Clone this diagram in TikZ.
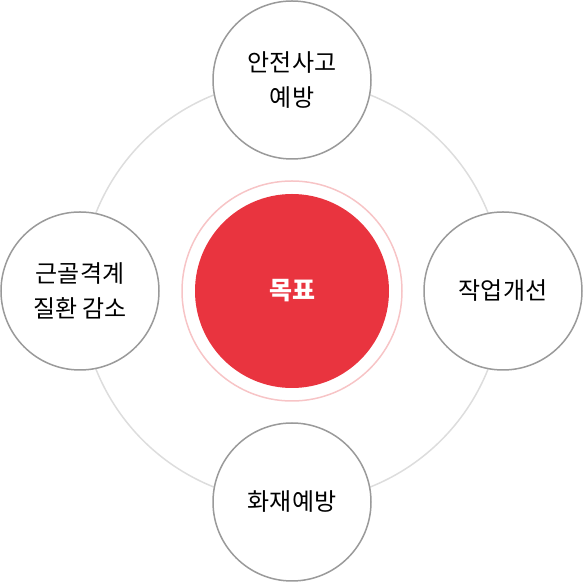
\documentclass[tikz,border=0pt]{standalone}
\usepackage{fontspec}
\newfontfamily\cjk{Noto Sans CJK KR}
\definecolor{goalred}{HTML}{E9343F}
\definecolor{ringpink}{HTML}{F7C4C6}
\definecolor{ringgray}{HTML}{DDDDDD}
\definecolor{nodegray}{HTML}{9A9A9A}
\begin{document}
\begin{tikzpicture}[x=1pt,y=1pt,
  item/.style={circle,draw=nodegray,line width=1.5pt,fill=white,minimum size=158pt,inner sep=0pt,
    align=center,font=\cjk\fontsize{24}{35}\selectfont,text=black},
  goal/.style={circle,fill=goalred,minimum size=194pt,inner sep=0pt,
    font=\cjk\bfseries\fontsize{25}{30}\selectfont,text=white}]
\useasboundingbox (0,0) rectangle (584,583);
\coordinate (c) at (292,292);
\draw[ringgray,line width=1.5pt] (c) circle (211);
\draw[ringpink,line width=1.5pt] (c) circle (110);
\node[goal] (g) at (c) {목표};
\node[item] (t) at (292,503) {안전사고\\예방};
\node[item] (l) at (80,292) {근골격계\\질환 감소};
\node[item] (r) at (503,292) {작업개선};
\node[item] (b) at (292,81) {화재예방};
\end{tikzpicture}
\end{document}
